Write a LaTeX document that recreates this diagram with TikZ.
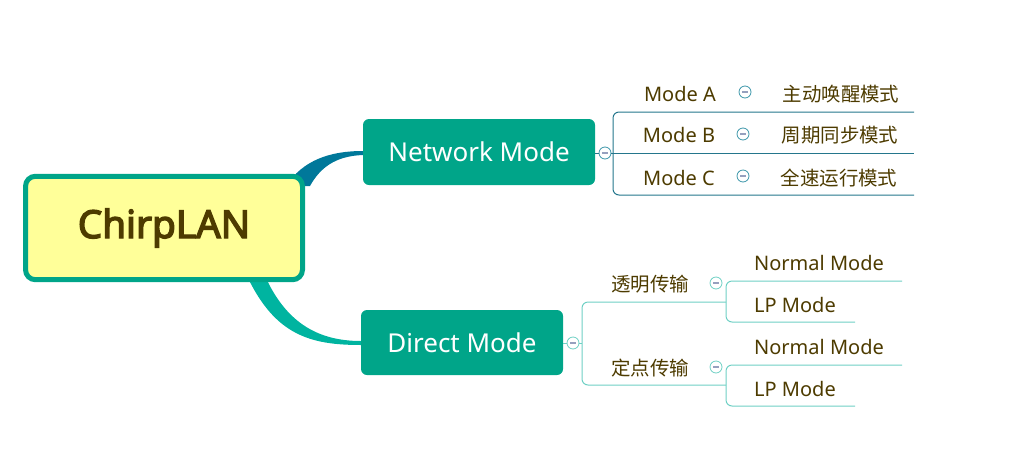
\documentclass[tikz,border=0pt]{standalone}
\usepackage{fontspec}
\setmainfont{Noto Sans}
\newfontfamily\rootfont{Noto Sans}[FakeBold=3.5]
\newfontfamily\cjk{Noto Sans CJK SC}
\definecolor{txt}{RGB}{77,59,0}
\definecolor{teal}{RGB}{0,165,137}
\definecolor{rootfill}{RGB}{255,255,153}
\definecolor{netcon}{RGB}{0,120,154}
\definecolor{dircon}{RGB}{0,180,160}
\definecolor{netline}{RGB}{36,118,140}
\definecolor{dirline}{RGB}{110,208,196}
\definecolor{circ}{RGB}{60,150,170}
\definecolor{minus}{RGB}{150,160,190}
\begin{document}
\begin{tikzpicture}[x=0.75pt,y=-0.75pt,
  lbl/.style={text=txt,font=\fontsize{15}{17}\selectfont,inner sep=0pt},
  clbl/.style={text=txt,font=\cjk\fontsize{14.6}{17}\selectfont,inner sep=0pt},
  sub/.style={fill=teal,rounded corners=4.5pt,text=white,font=\fontsize{19.5}{23}\selectfont,inner sep=0pt},
  tog/.style={circle,draw=#1,fill=white,minimum size=9pt,inner sep=0pt,line width=0.6pt,
    path picture={\draw[minus,line width=0.9pt] ([xshift=-2.2pt]path picture bounding box.center) -- ([xshift=2.2pt]path picture bounding box.center);}},
  nl/.style={draw=netline,line width=0.75pt,rounded corners=4.5pt},
  dl/.style={draw=dirline,line width=0.75pt,rounded corners=4.5pt}]
\useasboundingbox (0,0) rectangle (1010,461);
% tapered connectors
\fill[netcon] (286,186) .. controls (303,160) and (330,151) .. (363,151) -- (363,155) .. controls (335,156) and (320,168) .. (310,186) -- cycle;
\fill[dircon] (247,276) .. controls (275,335) and (310,345) .. (361,345) -- (361,341) .. controls (315,341) and (285,320) .. (265,276) -- cycle;
% root
\node[draw=teal,line width=3.75pt,fill=rootfill,rounded corners=7.5pt,minimum width=207.75pt,minimum height=77.6pt,
  text=txt,font=\rootfont\fontsize{29}{33}\selectfont] (root) at (164,228) {ChirpLAN};
% main branches
\node[sub,minimum width=174pt,minimum height=49.5pt] (net) at (479,152) {Network Mode};
\node[sub,minimum width=151.5pt,minimum height=48.75pt] (dir) at (462,342.5) {Direct Mode};
% network branch
\node[tog=circ] (tn) at (605,153) {};
\draw[netline,line width=0.75pt] (net.east |- tn) -- (tn.west);
\coordinate (na) at (914,112);
\coordinate (nb) at (914,153);
\coordinate (nc) at (914,195);
\draw[nl] (na) -- (613,112) -- (613,195) -- (nc);
\draw[nl] (tn.east) -- (nb);
\node[lbl] (ma) at (680,94) {Mode A};
\node[lbl] (mb) at (679,135) {Mode B};
\node[lbl] (mc) at (679,178) {Mode C};
\node[tog=circ] (ta) at (745,92) {};
\node[tog=circ] (tb) at (743,134) {};
\node[tog=circ] (tc) at (743,176) {};
\node[clbl] (ca) at (841,94) {主动唤醒模式};
\node[clbl] (cb) at (840,135) {周期同步模式};
\node[clbl] (cc) at (839,178) {全速运行模式};
% direct branch
\node[tog=dirline] (td) at (573,343) {};
\draw[dirline,line width=0.75pt] (dir.east |- td) -- (td.west);
\draw[dl] (td.east) -- (582,343);
\coordinate (s1) at (726,302);
\coordinate (s2) at (726,385);
\draw[dl] (s1) -- (582,302) -- (582,385) -- (s2);
\node[clbl] (t1) at (650,284) {透明传输};
\node[clbl] (t2) at (650,368) {定点传输};
\node[tog=dirline] (tt1) at (716,283) {};
\node[tog=dirline] (tt2) at (716,367) {};
\coordinate (n1) at (902,281);
\coordinate (l1) at (855,322);
\coordinate (n2) at (902,365);
\coordinate (l2) at (855,406);
\draw[dl] (n1) -- (726,281) -- (726,322) -- (l1);
\draw[dl] (n2) -- (726,365) -- (726,406) -- (l2);
\node[lbl] (nm1) at (819,263) {Normal Mode};
\node[lbl] (lp1) at (795,305) {LP Mode};
\node[lbl] (nm2) at (819,347) {Normal Mode};
\node[lbl] (lp2) at (795,389) {LP Mode};
\end{tikzpicture}
\end{document}
